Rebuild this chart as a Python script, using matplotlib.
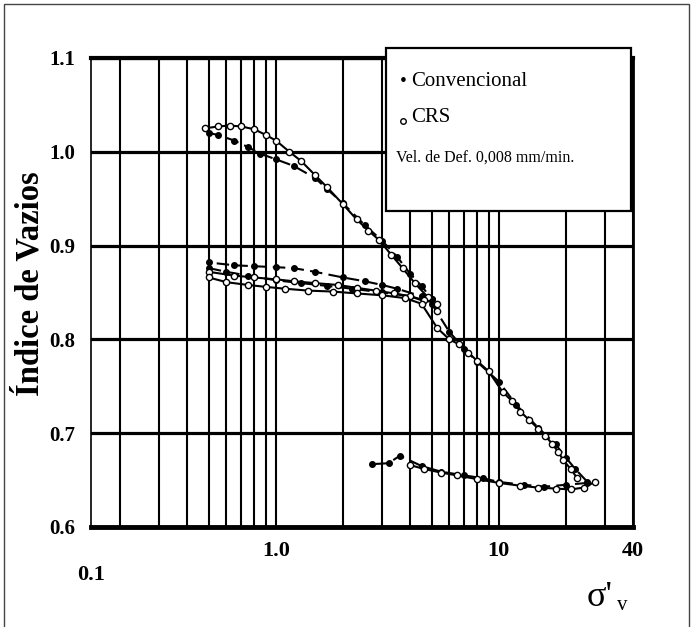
import matplotlib
matplotlib.use("Agg")
import matplotlib.pyplot as plt
from matplotlib.patches import Rectangle
from matplotlib.ticker import LogLocator, NullFormatter

plt.rcParams['font.family'] = ['Liberation Serif', 'DejaVu Serif']

# ---- data (tensão efetiva vertical, índice de vazios) ----
conv_load_x = [0.5, 0.55, 0.65, 0.75, 0.85, 1.0, 1.2, 1.5, 1.7, 2.0, 2.5, 3.0, 3.5, 4.0, 4.5, 5.0]
conv_load_e = [1.020, 1.018, 1.012, 1.005, 0.998, 0.992, 0.985, 0.972, 0.960, 0.945, 0.922, 0.905, 0.888, 0.870, 0.857, 0.843]
conv_unl1_x = [5.0, 4.5, 3.5, 3.0, 2.5, 2.0, 1.5, 1.2, 1.0, 0.8, 0.65, 0.5]
conv_unl1_e = [0.843, 0.846, 0.854, 0.858, 0.862, 0.866, 0.872, 0.876, 0.877, 0.878, 0.879, 0.882]
conv_rel_x = [0.5, 0.6, 0.75, 1.0, 1.3, 1.7, 2.2, 3.0, 4.0, 5.0, 6.0, 7.0, 8.0, 10.0, 12.0, 15.0, 18.0, 20.0, 22.0, 25.0]
conv_rel_e = [0.876, 0.872, 0.868, 0.863, 0.860, 0.857, 0.854, 0.850, 0.846, 0.838, 0.808, 0.790, 0.776, 0.755, 0.730, 0.706, 0.688, 0.674, 0.662, 0.648]
conv_unl2_x = [25.0, 20.0, 16.0, 13.0, 10.0, 8.5, 7.0, 5.5, 4.5, 3.6, 3.2, 2.7]
conv_unl2_e = [0.647, 0.645, 0.643, 0.645, 0.648, 0.652, 0.655, 0.659, 0.665, 0.676, 0.668, 0.667]

crs_load_x = [0.48, 0.55, 0.62, 0.7, 0.8, 0.9, 1.0, 1.15, 1.3, 1.5, 1.7, 2.0, 2.3, 2.6, 2.9, 3.3, 3.7, 4.2, 4.8, 5.3]
crs_load_e = [1.025, 1.027, 1.028, 1.027, 1.024, 1.018, 1.012, 1.000, 0.990, 0.975, 0.962, 0.944, 0.928, 0.916, 0.906, 0.890, 0.876, 0.860, 0.845, 0.830]
crs_unl1_x = [5.3, 4.6, 4.0, 3.4, 2.8, 2.3, 1.9, 1.5, 1.2, 1.0, 0.8, 0.65, 0.5]
crs_unl1_e = [0.838, 0.842, 0.846, 0.849, 0.852, 0.855, 0.858, 0.860, 0.862, 0.864, 0.866, 0.868, 0.872]
crs_rel_x = [0.5, 0.6, 0.75, 0.9, 1.1, 1.4, 1.8, 2.3, 3.0, 3.8, 4.5, 5.3, 6.0, 6.6, 7.3, 8.0, 9.0, 10.4, 11.5, 12.5, 13.7, 15.0, 16.2, 17.3, 18.5, 19.5, 21.0, 22.5]
crs_rel_e = [0.866, 0.861, 0.858, 0.856, 0.854, 0.852, 0.851, 0.849, 0.847, 0.844, 0.838, 0.812, 0.800, 0.795, 0.786, 0.777, 0.766, 0.744, 0.734, 0.723, 0.714, 0.705, 0.697, 0.689, 0.680, 0.671, 0.662, 0.652]
crs_unl2_x = [27.0, 24.0, 21.0, 18.0, 15.0, 12.5, 10.0, 8.0, 6.5, 5.5, 4.6, 4.0]
crs_unl2_e = [0.648, 0.642, 0.640, 0.641, 0.642, 0.644, 0.647, 0.651, 0.655, 0.658, 0.662, 0.666]

y_ticks = [0.6, 0.7, 0.8, 0.9, 1.0, 1.1]
y_ticklabels = ["0.6", "0.7", "0.8", "0.9", "1.0", "1.1"]
x_ticks = [1.0, 10.0, 40.0]
x_ticklabels = ["1.0", "10", "40"]

fig = plt.figure(figsize=(6.92, 6.27), dpi=100)
ax = fig.add_axes([0.1315, 0.1595, 0.7832, 0.748])
ax.set_xscale('log')
ax.set_xlim(0.148, 40)
ax.set_ylim(0.6, 1.1)

# grid
ax.xaxis.set_minor_locator(LogLocator(base=10, subs=range(2, 10)))
ax.xaxis.set_minor_formatter(NullFormatter())
ax.grid(True, which='both', axis='x', color='black', lw=1.5)
ax.grid(True, which='major', axis='y', color='black', lw=2.3)

ax.set_yticks(y_ticks)
ax.set_yticklabels(y_ticklabels)
ax.set_xticks(x_ticks)
ax.set_xticklabels(x_ticklabels)
ax.tick_params(axis='both', which='both', length=0)
ax.tick_params(axis='y', pad=11, labelsize=15)
ax.tick_params(axis='x', pad=10, labelsize=16)
for lab in ax.get_xticklabels() + ax.get_yticklabels():
    lab.set_fontweight('bold')

for side, lw in (('left', 1.2), ('bottom', 3.5), ('top', 3.0), ('right', 2.0)):
    ax.spines[side].set_linewidth(lw)
    ax.spines[side].set_color('black')

# curves
for xs, es in ((conv_load_x, conv_load_e), (conv_unl1_x, conv_unl1_e),
               (conv_rel_x, conv_rel_e), (conv_unl2_x, conv_unl2_e)):
    ax.plot(xs, es, ls=(0, (6, 3)), color='black', lw=1.5, marker='o', ms=4,
            mfc='black', mec='black', zorder=3)
for xs, es in ((crs_load_x, crs_load_e), (crs_unl1_x, crs_unl1_e),
               (crs_rel_x, crs_rel_e), (crs_unl2_x, crs_unl2_e)):
    ax.plot(xs, es, ls='-', color='black', lw=1.5, marker='o', ms=4.5,
            mfc='white', mec='black', mew=1.0, zorder=4)

# legend box
fig.patches.append(Rectangle((386 / 692, 1 - 211 / 627), (631 - 386) / 692, (211 - 48) / 627,
                             transform=fig.transFigure, facecolor='white', edgecolor='black',
                             lw=1.6, zorder=10))
fig.text(403 / 692, 1 - 82 / 627, "•", fontsize=14, ha='center', va='center', zorder=11)
fig.text(411 / 692, 1 - 82 / 627, "Convencional", fontsize=15, ha='left', va='center', zorder=11)
fig.lines.append(plt.Line2D([403 / 692], [1 - 121 / 627], transform=fig.transFigure, marker='o',
                            ms=4, mfc='white', mec='black', ls='none', zorder=11))
fig.text(411 / 692, 1 - 118 / 627, "CRS", fontsize=15, ha='left', va='center', zorder=11)
fig.text(396 / 692, 1 - 158 / 627, "Vel. de Def. 0,008 mm/min.", fontsize=11.5,
         ha='left', va='center', zorder=11)

# axis labels
fig.text(30 / 692, 1 - 284 / 627, "Índice de Vazios", rotation=90, fontsize=23.5,
         fontweight='bold', ha='center', va='center')
fig.text(91 / 692, 1 - 575 / 627, "0.1", fontsize=16, fontweight='bold', ha='center', va='center')
fig.text(600 / 692, 1 - 598 / 627, "σ'", fontsize=26, ha='center', va='center')
fig.text(622 / 692, 1 - 606 / 627, "v", fontsize=15, ha='center', va='center')

# outer frame
fig.patches.append(Rectangle((4 / 692, -0.01), (689 - 4) / 692, 1 - 4 / 627 + 0.01,
                             transform=fig.transFigure, facecolor='none', edgecolor='#444444',
                             lw=1.0, zorder=20))

fig.savefig("out.png", dpi=100)
